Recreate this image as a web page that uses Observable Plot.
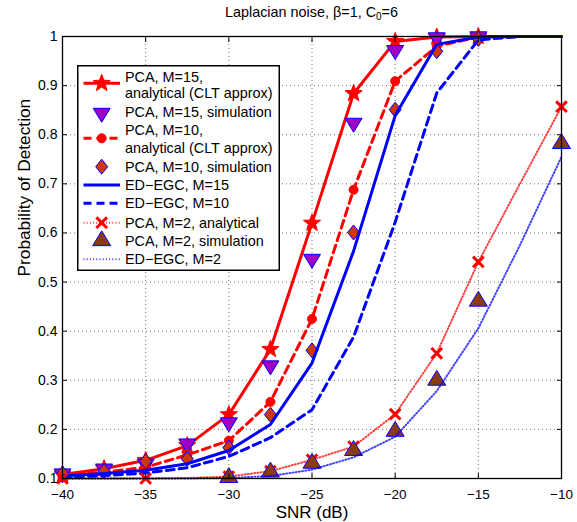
<!DOCTYPE html>
<html>
<head>
<meta charset="utf-8">
<script src="https://cdn.jsdelivr.net/npm/d3@7"></script>
<script src="https://cdn.jsdelivr.net/npm/@observablehq/plot@0.6"></script>
<style>
  html, body { margin: 0; padding: 0; background: #fff; }
  body { font-family: "Liberation Sans", Arial, Helvetica, sans-serif; }
  #wrap { position: relative; width: 577px; height: 522px; }
  #title { position: absolute; top: 4px; left: 62px; width: 499px; text-align: center;
           font-size: 14.4px; line-height: 16px; color: #000; white-space: nowrap; }
  #title sub { font-size: 10px; line-height: 0; vertical-align: -3px; }
  #legend { position: absolute; left: 77px; top: 65px; }
</style>
</head>
<body>
<div id="wrap">
  <div id="chart"></div>
  <div id="title"></div>
  <svg id="legend" width="203" height="206"></svg>
</div>
<script>
// ---------------- data ----------------
const snr = [-40, -37.5, -35, -32.5, -30, -27.5, -25, -22.5, -20, -17.5, -15, -12.5, -10];
const simSnr = [-40, -37.5, -35, -32.5, -30, -27.5, -25, -22.5, -20, -17.5, -15];

const pca15Analytical = [0.108, 0.120, 0.137, 0.167, 0.230, 0.363, 0.620, 0.884, 0.990, 0.999, 1.000, 1.000, 1.000];
const pca15Simulation = [0.110, 0.120, 0.130, 0.171, 0.214, 0.330, 0.547, 0.824, 0.972, 0.998, 1.000];
const pca10Analytical = [0.105, 0.113, 0.123, 0.148, 0.177, 0.256, 0.425, 0.688, 0.909, 0.980, 0.999, 1.000, 1.000];
const pca10Simulation = [0.110, 0.115, 0.135, 0.140, 0.163, 0.230, 0.361, 0.601, 0.851, 0.970, 0.995];
const edegc15 = [0.105, 0.110, 0.117, 0.130, 0.157, 0.210, 0.335, 0.563, 0.839, 0.984, 0.999, 1.000, 1.000];
const edegc10 = [0.102, 0.106, 0.111, 0.122, 0.145, 0.183, 0.240, 0.388, 0.622, 0.885, 0.993, 1.000, 1.000];

const pca2Analytical = [0.100, 0.100, 0.100, 0.101, 0.104, 0.115, 0.138, 0.165, 0.231, 0.355, 0.541, 0.700, 0.857];
const pca2MarkerSnr = [-40, -35, -30, -27.5, -25, -22.5, -20, -17.5, -15, -10];
const pca2SimSnr = [-30, -27.5, -25, -22.5, -20, -17.5, -15, -10];
const pca2Simulation = [0.102, 0.113, 0.131, 0.157, 0.196, 0.300, 0.461, 0.782];
const edegc2 = [0.100, 0.100, 0.100, 0.100, 0.101, 0.105, 0.118, 0.143, 0.185, 0.278, 0.406, 0.575, 0.755];

const xTicks = [-40, -35, -30, -25, -20, -15, -10];
const yTicks = [0.1, 0.2, 0.3, 0.4, 0.5, 0.6, 0.7, 0.8, 0.9, 1];

const titleText = ["Laplacian noise, \u03b2=1, C", "0", "=6"];
const xLabel = "SNR (dB)";
const yLabel = "Probability of Detection";

const legendLabels = [
  ["PCA, M=15,", "analytical (CLT approx)"],
  ["PCA, M=15, simulation"],
  ["PCA, M=10,", "analytical (CLT approx)"],
  ["PCA, M=10, simulation"],
  ["ED\u2212EGC, M=15"],
  ["ED\u2212EGC, M=10"],
  ["PCA, M=2, analytical"],
  ["PCA, M=2, simulation"],
  ["ED\u2212EGC, M=2"]
];

// ---------------- symbols ----------------
function rad(size) { return Math.sqrt(size / Math.PI); }
const starSym = { draw(ctx, size) {
  const R = rad(size), r = R * 0.42;
  for (let i = 0; i < 10; i++) {
    const a = -Math.PI / 2 + i * Math.PI / 5, q = i % 2 ? r : R;
    const px = q * Math.cos(a), py = q * Math.sin(a);
    if (i === 0) ctx.moveTo(px, py); else ctx.lineTo(px, py);
  }
  ctx.closePath();
}};
const triDownSym = { draw(ctx, size) {
  const R = rad(size);
  ctx.moveTo(-R, -0.55 * R); ctx.lineTo(R, -0.55 * R); ctx.lineTo(0, 1.1 * R); ctx.closePath();
}};
const triUpSym = { draw(ctx, size) {
  const R = rad(size);
  ctx.moveTo(-R, 0.55 * R); ctx.lineTo(R, 0.55 * R); ctx.lineTo(0, -1.1 * R); ctx.closePath();
}};
const diamondSym = { draw(ctx, size) {
  const R = rad(size);
  ctx.moveTo(0, -R); ctx.lineTo(0.8 * R, 0); ctx.lineTo(0, R); ctx.lineTo(-0.8 * R, 0); ctx.closePath();
}};
const timesSym = { draw(ctx, size) {
  const R = rad(size);
  ctx.moveTo(-R, -R); ctx.lineTo(R, R); ctx.moveTo(R, -R); ctx.lineTo(-R, R);
}};
const circleSym = { draw(ctx, size) {
  const R = rad(size);
  ctx.moveTo(R, 0); ctx.arc(0, 0, R, 0, 2 * Math.PI);
}};

// ---------------- styles ----------------
const RED = "#ff0000", BLUE = "#0000ff";
const PURPLE = "#a000c4", ORANGE = "#d23600", BROWN = "#8b3a0e";

const st = {
  pca15a: { line: { stroke: RED, strokeWidth: 3 }, marker: { symbol: starSym, r: 9, fill: RED, stroke: RED, strokeWidth: 1 } },
  pca15s: { marker: { symbol: triDownSym, r: 8.5, fill: PURPLE, stroke: BLUE, strokeWidth: 1 } },
  pca10a: { line: { stroke: RED, strokeWidth: 3, strokeDasharray: "8,5" }, marker: { symbol: circleSym, r: 4.5, fill: RED, stroke: RED, strokeWidth: 1 } },
  pca10s: { marker: { symbol: diamondSym, r: 7.5, fill: ORANGE, stroke: BLUE, strokeWidth: 1 } },
  ed15: { line: { stroke: BLUE, strokeWidth: 3 } },
  ed10: { line: { stroke: BLUE, strokeWidth: 3, strokeDasharray: "8,5" } },
  pca2a: { line: { stroke: RED, strokeWidth: 2, strokeDasharray: "1,2.2", strokeOpacity: 0.75 }, marker: { symbol: timesSym, r: 5.3, fill: "none", stroke: RED, strokeWidth: 3 } },
  pca2s: { marker: { symbol: triUpSym, r: 9, fill: BROWN, stroke: BLUE, strokeWidth: 1 } },
  ed2: { line: { stroke: BLUE, strokeWidth: 2, strokeDasharray: "1,2.2", strokeOpacity: 0.75 } }
};
const legendOrder = ["pca15a", "pca15s", "pca10a", "pca10s", "ed15", "ed10", "pca2a", "pca2s", "ed2"];

// ---------------- tables ----------------
const zip = (xs, ys) => xs.map((x, i) => ({ snr: x, pd: ys[i] }));
const t15a = zip(snr, pca15Analytical);
const t15s = zip(simSnr, pca15Simulation);
const t10a = zip(snr, pca10Analytical);
const t10s = zip(simSnr, pca10Simulation);
const tEd15 = zip(snr, edegc15);
const tEd10 = zip(snr, edegc10);
const t2a = zip(snr, pca2Analytical);
const t2aM = t2a.filter(d => pca2MarkerSnr.includes(d.snr));
const t2s = zip(pca2SimSnr, pca2Simulation);
const tEd2 = zip(snr, edegc2);
const t15aM = t15a.filter(d => simSnr.includes(d.snr));
const t10aM = t10a.filter(d => simSnr.includes(d.snr));

const L = (data, s) => Plot.line(data, { x: "snr", y: "pd", ...s.line });
const D = (data, s) => Plot.dot(data, { x: "snr", y: "pd", ...s.marker });

const fmtX = d => d < 0 ? "\u2212" + (-d) : String(d);
const fmtY = d => d === 1 ? "1" : d.toFixed(1);

const chart = Plot.plot({
  width: 577,
  height: 522,
  marginLeft: 62,
  marginRight: 16,
  marginTop: 36,
  marginBottom: 44,
  style: { fontFamily: "Liberation Sans, Arial, Helvetica, sans-serif", fontSize: "14px", background: "#fff", color: "#000", overflow: "visible" },
  x: { domain: [-40, -10] },
  y: { domain: [0.1, 1] },
  marks: [
    Plot.gridX(xTicks, { stroke: "#000", strokeOpacity: 0.55, strokeDasharray: "1,3", strokeWidth: 1 }),
    Plot.gridY(yTicks, { stroke: "#000", strokeOpacity: 0.55, strokeDasharray: "1,3", strokeWidth: 1 }),
    L(t15a, st.pca15a), D(t15aM, st.pca15a),
    D(t15s, st.pca15s),
    L(t10a, st.pca10a), D(t10aM, st.pca10a),
    D(t10s, st.pca10s),
    L(tEd15, st.ed15),
    L(tEd10, st.ed10),
    L(t2a, st.pca2a), D(t2aM, st.pca2a),
    D(t2s, st.pca2s),
    L(tEd2, st.ed2),
    Plot.frame({ stroke: "#000", strokeWidth: 1.3 }),
    Plot.axisX(xTicks, { anchor: "bottom", tickSize: 0, tickPadding: 10.5, tickFormat: fmtX, label: null, fontSize: 13.5 }),
    Plot.axisX(xTicks, { anchor: "bottom", tickSize: -5, fill: "none", label: null }),
    Plot.axisX(xTicks, { anchor: "top", tickSize: -5, fill: "none", label: null }),
    Plot.axisY(yTicks, { anchor: "left", tickSize: 0, tickPadding: 5, tickFormat: fmtY, label: null, fontSize: 14 }),
    Plot.axisY(yTicks, { anchor: "left", tickSize: -5, fill: "none", label: null }),
    Plot.axisY(yTicks, { anchor: "right", tickSize: -5, fill: "none", label: null }),
    Plot.text([xLabel], { frameAnchor: "bottom", lineAnchor: "bottom", dy: 39.5, fontSize: 17, fill: "#000" }),
    Plot.text([yLabel], { frameAnchor: "left", dx: -38, dy: 19, rotate: -90, fontSize: 17.3, fill: "#000" })
  ]
});
document.getElementById("chart").appendChild(chart);

// ---------------- title ----------------
const title = document.getElementById("title");
title.appendChild(document.createTextNode(titleText[0]));
const sub = document.createElement("sub"); sub.textContent = titleText[1]; title.appendChild(sub);
title.appendChild(document.createTextNode(titleText[2]));

// ---------------- legend ----------------
const lg = d3.select("#legend");
lg.append("rect").attr("x", 0.75).attr("y", 0.75).attr("width", 201.5).attr("height", 204.5)
  .attr("fill", "#fff").attr("stroke", "#000").attr("stroke-width", 1.5);
const rowY = [18.3, 48, 73.3, 101.7, 120, 138.3, 157.7, 175.7, 194.3];
const textY = [[11.7, 28.3], [47.3], [65, 82.7], [101.7], [120], [138.3], [157.7], [175.7], [194.3]];
legendOrder.forEach((key, i) => {
  const s = st[key];
  const g = lg.append("g");
  if (s.line) {
    g.append("line").attr("x1", 6.5).attr("x2", 43).attr("y1", rowY[i]).attr("y2", rowY[i])
      .attr("stroke", s.line.stroke).attr("stroke-width", s.line.strokeWidth)
      .attr("stroke-dasharray", s.line.strokeDasharray || null)
      .attr("stroke-opacity", s.line.strokeOpacity || null);
  }
  if (s.marker) {
    const m = s.marker;
    g.append("path").attr("transform", `translate(24.7,${rowY[i]})`)
      .attr("d", d3.symbol(m.symbol, m.r * m.r * Math.PI)())
      .attr("fill", m.fill).attr("stroke", m.stroke).attr("stroke-width", m.strokeWidth);
  }
  legendLabels[i].forEach((txt, j) => {
    g.append("text").attr("x", 48).attr("y", textY[i][j]).attr("dy", "0.35em")
      .attr("font-size", "14.4px").attr("font-family", "Liberation Sans, Arial, Helvetica, sans-serif")
      .attr("fill", "#000").text(txt);
  });
});
</script>
</body>
</html>
